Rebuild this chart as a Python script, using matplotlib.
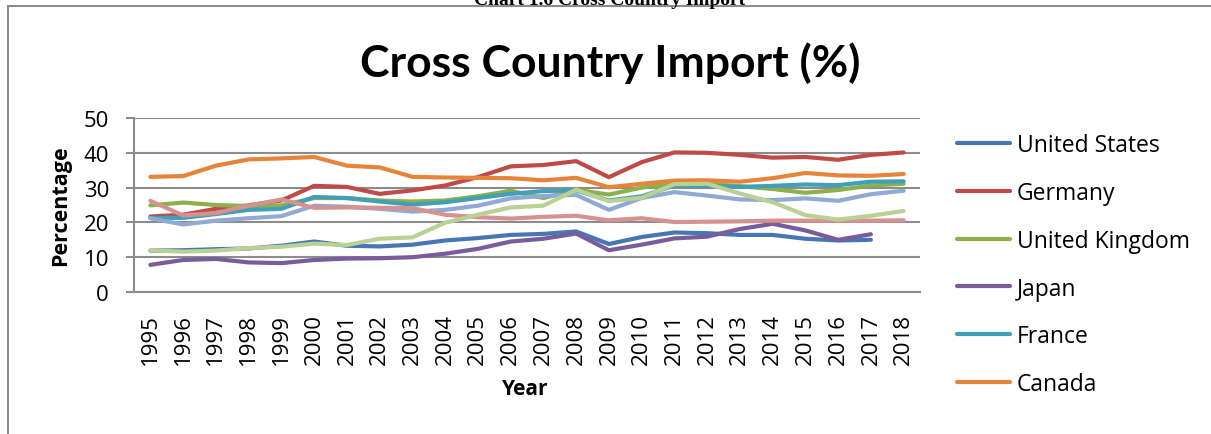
import numpy as np
from matplotlib import pyplot as plt
from matplotlib.patches import Rectangle

plt.rcParams["font.family"] = ["Open Sans", "DejaVu Sans"]

years = [str(y) for y in range(1995, 2019)]

united_states = [11.9, 12.0, 12.3, 12.5, 13.3, 14.5, 13.3, 13.1, 13.6, 14.8, 15.5, 16.4,
                 16.7, 17.4, 13.8, 15.8, 17.1, 16.9, 16.4, 16.4, 15.3, 14.8, 15.0, np.nan]
germany = [21.7, 22.2, 23.9, 24.9, 26.3, 30.5, 30.2, 28.2, 29.2, 30.6, 33.0, 36.1,
           36.5, 37.6, 33.0, 37.3, 40.1, 40.0, 39.4, 38.6, 38.8, 38.0, 39.4, 40.1]
united_kingdom = [24.9, 25.7, 25.0, 24.7, 24.9, 27.0, 27.0, 26.3, 26.0, 26.3, 27.5, 29.1,
                  27.0, 29.4, 28.0, 30.0, 31.1, 31.1, 30.4, 29.6, 28.5, 29.3, 30.6, 31.1]
japan = [7.8, 9.2, 9.5, 8.5, 8.3, 9.2, 9.6, 9.7, 10.0, 11.0, 12.4, 14.5,
         15.3, 16.8, 12.0, 13.6, 15.4, 15.9, 18.1, 19.6, 17.7, 15.0, 16.6, np.nan]
france = [21.3, 21.3, 22.4, 23.6, 23.9, 27.3, 27.0, 26.0, 25.1, 25.8, 27.0, 28.2,
          29.0, 29.2, 26.3, 27.5, 30.6, 30.5, 30.2, 30.5, 30.9, 30.7, 31.7, 31.8]
canada = [33.1, 33.3, 36.3, 38.1, 38.4, 38.8, 36.3, 35.8, 33.1, 32.9, 32.8, 32.7,
          32.1, 32.8, 30.1, 31.1, 32.0, 32.1, 31.7, 32.7, 34.2, 33.5, 33.4, 33.9]
series_7 = [21.2, 19.4, 20.5, 21.2, 21.8, 24.8, 24.5, 23.9, 23.1, 23.6, 24.8, 26.9,
            27.6, 27.9, 23.6, 27.0, 28.7, 27.7, 26.6, 26.4, 26.9, 26.2, 28.1, 29.1]
series_8 = [26.2, 22.0, 22.7, 24.8, 26.6, 24.2, 24.3, 24.2, 24.1, 22.2, 21.5, 21.1,
            21.6, 21.9, 20.6, 21.2, 20.1, 20.2, 20.3, 20.5, 20.5, 20.5, 20.5, 20.6]
series_9 = [12.0, 11.6, 11.9, 12.6, 13.0, 13.9, 13.5, 15.3, 15.7, 19.9, 22.2, 24.3,
            24.8, 29.4, 26.1, 27.1, 31.0, 31.1, 28.3, 25.8, 22.1, 20.8, 21.9, 23.3]

series = [
    ("United States", united_states, "#4677B4"),
    ("Germany", germany, "#BE4B48"),
    ("United Kingdom", united_kingdom, "#8DB04E"),
    ("Japan", japan, "#7A5C9C"),
    ("France", france, "#3FA0B8"),
    ("Canada", canada, "#E6843A"),
    ("Series 7", series_7, "#91AAD4"),
    ("Series 8", series_8, "#D69290"),
    ("Series 9", series_9, "#B9D193"),
]
legend_count = 6
grid_color = "#8C8C8C"

fig = plt.figure(figsize=(12.11, 4.35), dpi=100)
ax = fig.add_axes([134 / 1211, 1 - 293 / 435, 786 / 1211, 174 / 435])

x = np.arange(len(years))
handles = []
for name, values, color in series:
    (line,) = ax.plot(x, values, color=color, lw=3.0, solid_capstyle="round",
                      solid_joinstyle="round", label=name)
    handles.append(line)

ax.set_xlim(-0.5, len(years) - 0.5)
ax.set_ylim(0, 50)
ax.set_yticks(range(0, 51, 10))
ax.set_xticks(x)
ax.set_xticklabels(years, rotation=90, fontsize=16)
ax.tick_params(axis="x", length=0, pad=15)
ax.tick_params(axis="y", length=6, width=1.5, color=grid_color, pad=12, labelsize=16)
ax.yaxis.grid(True, color=grid_color, lw=1.5)
ax.set_axisbelow(True)
for side in ["top", "right"]:
    ax.spines[side].set_visible(False)
for side in ["left", "bottom"]:
    ax.spines[side].set_color(grid_color)
    ax.spines[side].set_linewidth(1.5)

fig.text(61 / 1211, 1 - 206 / 435, "Percentage", rotation=90, ha="center", va="center",
         fontsize=15.5, fontweight="bold")
fig.text(525 / 1211, 1 - 390 / 435, "Year", ha="center", va="center",
         fontsize=15, fontweight="bold")
fig.text(610 / 1211, 1 - 63 / 435, "Cross Country Import (%)", ha="center", va="center",
         fontsize=32, fontweight="bold", family="Lato")
fig.text(610 / 1211, 1 - 5 / 435, "Chart 1.6 Cross Country Import", ha="center",
         va="baseline", fontsize=14, fontweight="bold", family="Liberation Serif")

fig.legend(handles[:legend_count], [s[0] for s in series[:legend_count]],
           loc="upper left", bbox_to_anchor=(957 / 1211, 1 - 134 / 435),
           frameon=False, fontsize=16.5, handlelength=2.3, handletextpad=0.3,
           labelspacing=1.04, borderpad=0, borderaxespad=0)

# outer chart frame
fig.patches.append(Rectangle((8 / 1211, -0.1), 1.2, 1 - 7 / 435 + 0.1,
                             transform=fig.transFigure, fill=False,
                             edgecolor="#8C8C8C", lw=1.5))

fig.savefig("out.png", dpi=100)
